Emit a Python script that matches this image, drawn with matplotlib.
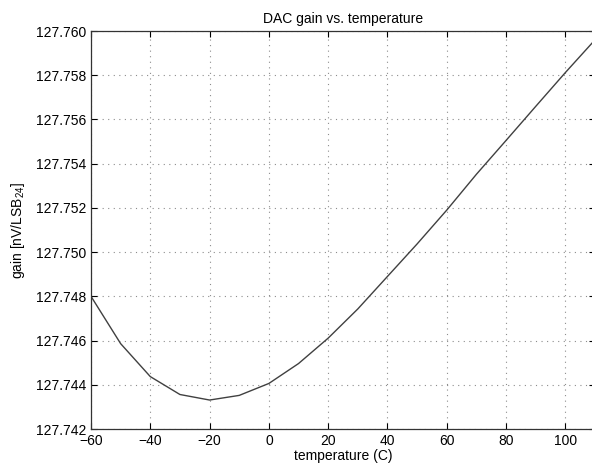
import matplotlib
matplotlib.use('Agg')
import matplotlib.pyplot as plt
import numpy as np
from matplotlib.ticker import FormatStrFormatter

plt.rcParams['font.family'] = ['Liberation Sans', 'DejaVu Sans']
plt.rcParams['mathtext.default'] = 'regular'

# temperatures (C) and measured DAC gain
temp = [-60, -50, -40, -30, -20, -10, 0, 10, 20, 30, 40, 50, 60, 70, 80, 90, 100, 110]
gain = [127.7480, 127.74586, 127.74437, 127.74356, 127.74331, 127.74352, 127.74406,
        127.74496, 127.74611, 127.74743, 127.74890, 127.75037, 127.75190, 127.75352,
        127.75505, 127.75659, 127.75812, 127.75960]

fig = plt.figure(figsize=(5.92, 4.69), dpi=100)
ax = fig.add_axes([91/592, 1-429/469, (595-91)/592, (429-31)/469])

ax.plot(temp, gain, color='0.25', linewidth=1.0)

ax.set_xlim(-60, 110)
ax.set_ylim(127.742, 127.760)
ax.set_xticks(np.arange(-60, 101, 20))
ax.set_yticks(np.arange(127.742, 127.7601, 0.002))
ax.yaxis.set_major_formatter(FormatStrFormatter('%.3f'))

ax.grid(True, linestyle=(0, (1, 4)), color='0.55', linewidth=0.8)
ax.tick_params(direction='in', top=True, right=True, labelsize=10, length=4, width=0.8)
for s in ax.spines.values():
    s.set_linewidth(0.9)
    s.set_color('0.2')

ax.set_title('DAC gain vs. temperature', fontsize=10, pad=6)
ax.set_xlabel('temperature (C)', fontsize=10, labelpad=1)
ax.set_ylabel('gain [nV/LSB$_{24}$]', fontsize=10, labelpad=6)

fig.savefig('out.png', dpi=100)
